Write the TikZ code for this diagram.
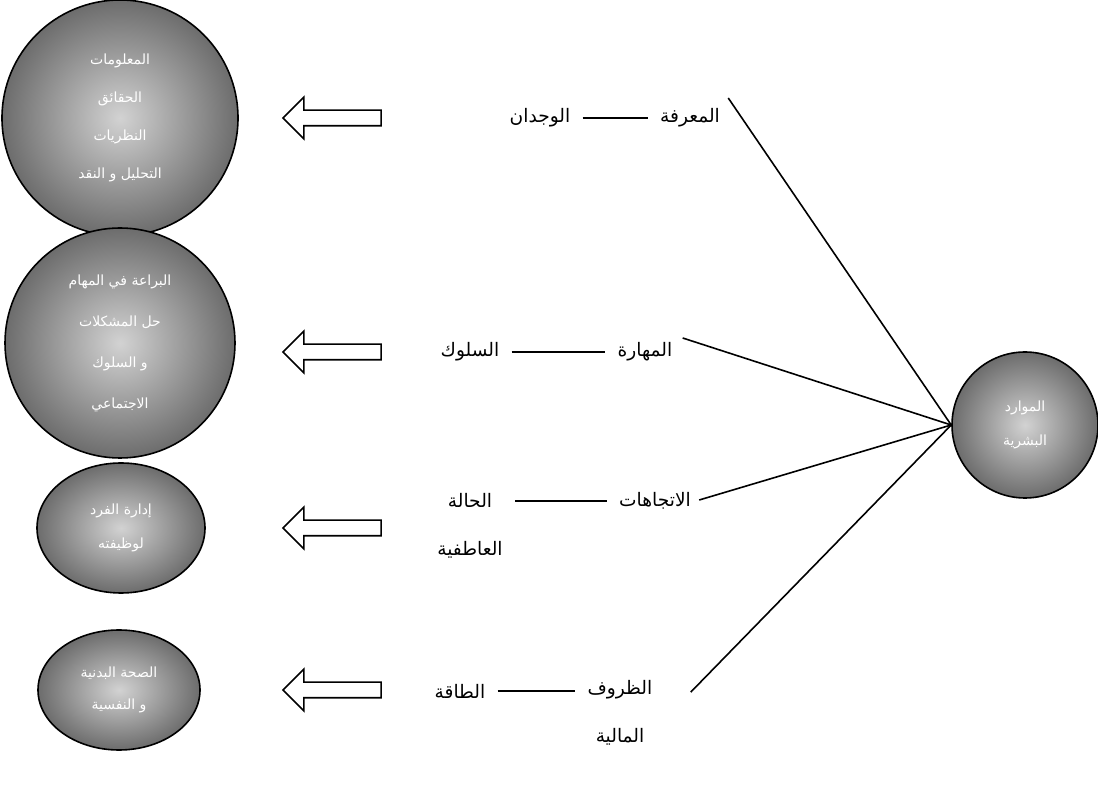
\documentclass[tikz,border=0pt]{standalone}
\usepackage{fontspec}
\newfontfamily\arabicfont[Script=Arabic]{DejaVu Sans}
\TeXXeTstate=1
\newcommand{\rtl}[1]{\beginR #1\endR}
\usetikzlibrary{positioning,shapes.geometric,shapes.arrows}

\tikzset{
  ball/.style={draw=black,thick,circle,inner color=gray!35,outer color=gray!85!black,text=white,font=\arabicfont\fontsize{7}{19}\selectfont,align=center,inner sep=0pt},
  oval/.style={ball,ellipse},
  word/.style={font=\arabicfont\fontsize{9.3}{24}\selectfont,align=center,inner sep=1pt},
  back/.style={draw,thick,fill=white,single arrow,shape border rotate=180,minimum height=49pt,minimum width=20pt,inner sep=3.5pt,single arrow head extend=6.5pt},
  link/.style={thick,shorten <=5pt,shorten >=5pt}
}

\begin{document}
\begin{tikzpicture}[x=0.5pt,y=-0.5pt]
  \useasboundingbox (0,0) rectangle (1098,801);
  % spheres on the left
  \node[ball,minimum size=118pt] (know) at (120,118) {\rtl{المعلومات}\\\rtl{الحقائق}\\\rtl{النظريات}\\\rtl{التحليل و النقد}};
  \node[ball,minimum size=115pt,font=\arabicfont\fontsize{7}{20.5}\selectfont] (skill) at (120,343) {\rtl{البراعة في المهام}\\\rtl{حل المشكلات}\\\rtl{و السلوك}\\\rtl{الاجتماعي}};
  \node[oval,minimum width=84pt,minimum height=65pt,font=\arabicfont\fontsize{7}{17}\selectfont] (job) at (121,528) {\rtl{إدارة الفرد}\\\rtl{لوظيفته}};
  \node[oval,minimum width=81pt,minimum height=60pt,font=\arabicfont\fontsize{7}{16}\selectfont] (health) at (119,690) {\rtl{الصحة البدنية}\\\rtl{و النفسية}};
  \node[ball,minimum size=73pt,font=\arabicfont\fontsize{7}{17}\selectfont] (hr) at (1025,425) {\rtl{الموارد}\\\rtl{البشرية}};
  % hollow arrows
  \foreach \y/\n in {118/a1,352/a2,528/a3,690/a4}
    \node[back] (\n) at (336,\y) {};
  % words
  \node[word] (wijdan) at (540,118) {\rtl{الوجدان}};
  \node[word] (marifa) at (690,118) {\rtl{المعرفة}};
  \node[word] (suluk) at (470,352) {\rtl{السلوك}};
  \node[word] (mahara) at (645,352) {\rtl{المهارة}};
  \node[word] (hala) at (470,526) {\rtl{الحالة}\\\rtl{العاطفية}};
  \node[word] (ittijah) at (655,501) {\rtl{الاتجاهات}};
  \node[word] (taqa) at (460,691) {\rtl{الطاقة}};
  \node[word] (zuruf) at (620,713) {\rtl{الظروف}\\\rtl{المالية}};
  % short dashes
  \draw[link] (wijdan.east) -- (marifa.west);
  \draw[link] (suluk.east) -- (mahara.west);
  \draw[link] (hala.east |- ittijah) -- (ittijah.west);
  \draw[link] (taqa.east) -- (zuruf.west |- taqa);
  % fan into the right sphere
  \draw[thick] (hr.west) -- ([xshift=3pt,yshift=10pt]marifa.east);
  \draw[thick] (hr.west) -- ([xshift=4pt,yshift=7pt]mahara.east);
  \draw[thick] (hr.west) -- ([xshift=3pt,yshift=0.5pt]ittijah.east);
  \draw[thick] (hr.west) -- ([xshift=18pt,yshift=-7pt]zuruf.north east);
\end{tikzpicture}
\end{document}
